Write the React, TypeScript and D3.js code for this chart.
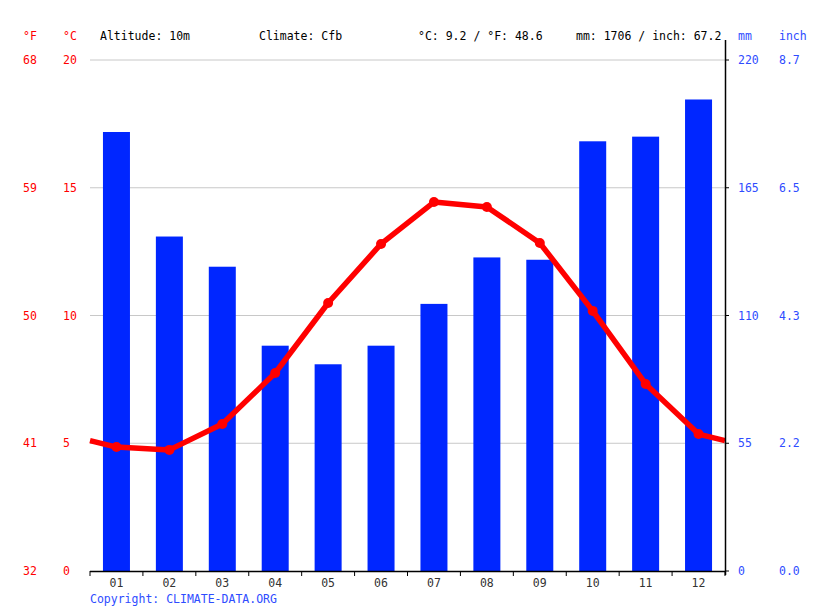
import React from "react";
import * as d3 from "d3";

const months = ["01", "02", "03", "04", "05", "06", "07", "08", "09", "10", "11", "12"];
const precipMm = [189, 144, 131, 97, 89, 97, 115, 135, 134, 185, 187, 203];
const tempC = [4.85, 4.74, 5.75, 7.75, 10.49, 12.8, 14.44, 14.25, 12.84, 10.18, 7.32, 5.36];
const cTicks = [0, 5, 10, 15, 20];
const fTicks = ["32", "41", "50", "59", "68"];
const mmTicks = [0, 55, 110, 165, 220];
const inchTicks = ["0.0", "2.2", "4.3", "6.5", "8.7"];
const header = [
  { text: "Altitude: 10m", x: 100 },
  { text: "Climate: Cfb", x: 259 },
  { text: "°C: 9.2 / °F: 48.6", x: 418 },
  { text: "mm: 1706 / inch: 67.2", x: 576 },
];

const W = 815;
const H = 611;
const L = 90;
const R = 725;
const T = 60;
const B = 571;
const FONT = "'DejaVu Sans Mono', monospace";
const RED = "#ff0000";
const BLUE = "#2e4cff";
const BAR = "#0026ff";

export default function App() {
  const x = d3.scaleBand<string>().domain(months).range([L, R]).paddingInner(0.49).paddingOuter(0.245);
  const xc = (m: string) => (x(m) as number) + x.bandwidth() / 2;
  const yC = d3.scaleLinear().domain([0, 20]).range([B, T]);
  const yMm = d3.scaleLinear().domain([0, 220]).range([B, T]);
  const step = (R - L) / 12;
  const edge = (tempC[0] + tempC[11]) / 2;
  const pts: [number, number][] = [
    [L, yC(edge)],
    ...tempC.map((t, i) => [L + step * (i + 0.5), yC(t)] as [number, number]),
    [R, yC(edge)],
  ];
  const line = d3.line().curve(d3.curveLinear)(pts) as string;

  return (
    <svg width={W} height={H} style={{ position: "absolute", left: 0, top: 0, background: "#fff" }} fontFamily={FONT} fontSize={11.5}>
      {/* gridlines */}
      {cTicks.filter((t) => t > 0).map((t) => (
        <line key={t} x1={L} x2={R} y1={yC(t)} y2={yC(t)} stroke="#c8c8c8" strokeWidth={1} />
      ))}
      {/* bars */}
      {precipMm.map((v, i) => (
        <rect key={i} x={L + step * (i + 0.5) - 13.5} width={27} y={yMm(v)} height={B - yMm(v)} fill={BAR} />
      ))}
      {/* temp line */}
      <path d={line} fill="none" stroke={RED} strokeWidth={5.5} strokeLinejoin="round" />
      {tempC.map((t, i) => (
        <circle key={i} cx={L + step * (i + 0.5)} cy={yC(t)} r={5} fill={RED} />
      ))}
      {/* bottom axis */}
      <line x1={L} x2={R + 1} y1={B + 0.5} y2={B + 0.5} stroke="#000" strokeWidth={1.5} />
      {d3.range(13).map((i) => (
        <line key={i} x1={L + step * i} x2={L + step * i} y1={B} y2={B + 5} stroke="#000" strokeWidth={1} />
      ))}
      {months.map((m, i) => (
        <text key={m} x={L + step * (i + 0.5)} y={587} textAnchor="middle" fill="#333">{m}</text>
      ))}
      {/* right axis */}
      <line x1={R + 0.5} x2={R + 0.5} y1={40} y2={B + 4} stroke="#000" strokeWidth={1.5} />
      {mmTicks.map((t) => (
        <line key={t} x1={R} x2={R + 4} y1={yMm(t)} y2={yMm(t)} stroke="#000" strokeWidth={1} />
      ))}
      {mmTicks.map((t) => (
        <text key={t} x={738} y={yMm(t) + 4} fill={BLUE}>{t}</text>
      ))}
      {inchTicks.map((t, i) => (
        <text key={t} x={779} y={yMm(mmTicks[i]) + 4} fill={BLUE}>{t}</text>
      ))}
      <text x={738} y={40} fill={BLUE}>mm</text>
      <text x={779} y={40} fill={BLUE}>inch</text>
      {/* left axis labels */}
      {cTicks.map((t) => (
        <text key={t} x={63} y={yC(t) + 4} fill={RED}>{t}</text>
      ))}
      {fTicks.map((t, i) => (
        <text key={t} x={23} y={yC(cTicks[i]) + 4} fill={RED}>{t}</text>
      ))}
      <text x={23} y={40} fill={RED}>°F</text>
      <text x={63} y={40} fill={RED}>°C</text>
      {header.map((h) => (
        <text key={h.text} x={h.x} y={40} fill="#000">{h.text}</text>
      ))}
      <text x={90} y={603} fill={BLUE}>Copyright: CLIMATE-DATA.ORG</text>
    </svg>
  );
}
